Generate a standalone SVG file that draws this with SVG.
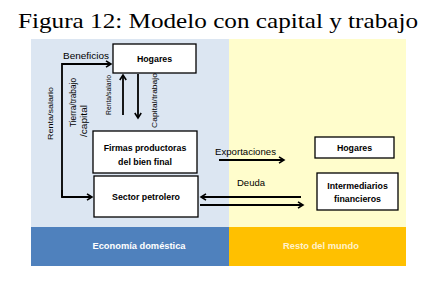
<svg xmlns="http://www.w3.org/2000/svg" width="440" height="287" viewBox="0 0 440 287">
<style>
.box{fill:#fff;stroke:#000;stroke-width:1.3}
.ar{fill:none;stroke:#000;stroke-width:1.8;marker-end:url(#ah)}
.t{font-family:"Liberation Sans",Arial,sans-serif;fill:#000}
.b{font-weight:bold;font-size:8.8px;text-anchor:middle}
.s{font-size:7px}
.band{font-family:"Liberation Sans",Arial,sans-serif;font-weight:bold;font-size:9.2px;text-anchor:middle}
</style>
<defs>
<marker id="ah" markerWidth="8" markerHeight="8" refX="6" refY="4" orient="auto" markerUnits="userSpaceOnUse">
<path d="M1,0.8 L6,4 L1,7.2" fill="none" stroke="#000" stroke-width="1.6"/>
</marker>
</defs>
<rect width="440" height="287" fill="#fff"/>
<text x="18" y="28" font-family="'Liberation Serif','DejaVu Serif',serif" font-size="22" textLength="400" lengthAdjust="spacingAndGlyphs">Figura 12: Modelo con capital y trabajo</text>
<g id="panels">
<rect x="31" y="39" width="198" height="188" fill="#dce6f2"/>
<rect x="229" y="39" width="177" height="188" fill="#fffdcc"/>
<rect x="31" y="227" width="198" height="39" fill="#4f81bd"/>
<rect x="229" y="227" width="177" height="39" fill="#ffc000"/>
<text class="band" x="139" y="249" fill="#fff" textLength="93" lengthAdjust="spacingAndGlyphs">Economía doméstica</text>
<text class="band" x="321" y="249" fill="#fff2cc" textLength="76" lengthAdjust="spacingAndGlyphs">Resto del mundo</text>
</g>
<g id="connectors">
<polyline class="ar" points="62,197 62,64 111,64"/>
<polyline class="ar" points="62,190 62,197 92,197"/>
<line class="ar" x1="123" y1="115" x2="123" y2="75"/>
<line class="ar" x1="138" y1="74" x2="138" y2="118"/>
<line class="ar" x1="219" y1="160" x2="284" y2="160"/>
<line class="ar" x1="301" y1="197" x2="201" y2="197"/>
<line class="ar" x1="200" y1="205" x2="303" y2="205"/>
<text class="t" x="63" y="59" font-size="8.8" textLength="46" lengthAdjust="spacingAndGlyphs">Beneficios</text>
<text class="t" x="215" y="155" font-size="8.8" textLength="61" lengthAdjust="spacingAndGlyphs">Exportaciones</text>
<text class="t" x="237" y="186" font-size="8.8" textLength="28" lengthAdjust="spacingAndGlyphs">Deuda</text>
<text class="t s" transform="translate(53,140) rotate(-90)" textLength="53" lengthAdjust="spacingAndGlyphs">Renta/salario</text>
<text class="t" font-size="9.6" transform="translate(76,127) rotate(-90)" textLength="49" lengthAdjust="spacingAndGlyphs">Tierra/trabajo</text>
<text class="t" font-size="9.6" transform="translate(87,137) rotate(-90)" textLength="32" lengthAdjust="spacingAndGlyphs">/capital</text>
<text class="t s" transform="translate(111,115) rotate(-90)" textLength="40" lengthAdjust="spacingAndGlyphs">Renta/salario</text>
<text class="t s" transform="translate(157,128) rotate(-90)" textLength="55" lengthAdjust="spacingAndGlyphs">Capital/trabajo</text>
</g>
<g id="hogares-dom">
<rect class="box" x="113" y="44" width="83" height="29"/>
<text class="t b" x="154.5" y="61.5">Hogares</text>
</g>
<g id="firmas">
<rect class="box" x="93" y="131" width="104" height="42"/>
<text class="t b" x="145" y="151">Firmas productoras</text>
<text class="t b" x="145" y="165">del bien final</text>
</g>
<g id="sector-petrolero">
<rect class="box" x="94" y="176" width="104" height="41"/>
<text class="t b" x="146" y="200">Sector petrolero</text>
</g>
<g id="hogares-ext">
<rect class="box" x="315" y="137" width="79" height="21"/>
<text class="t b" x="354.5" y="151">Hogares</text>
</g>
<g id="intermediarios">
<rect class="box" x="317" y="173" width="81" height="37"/>
<text class="t b" x="357.5" y="189">Intermediarios</text>
<text class="t b" x="357.5" y="202">financieros</text>
</g>
</svg>
